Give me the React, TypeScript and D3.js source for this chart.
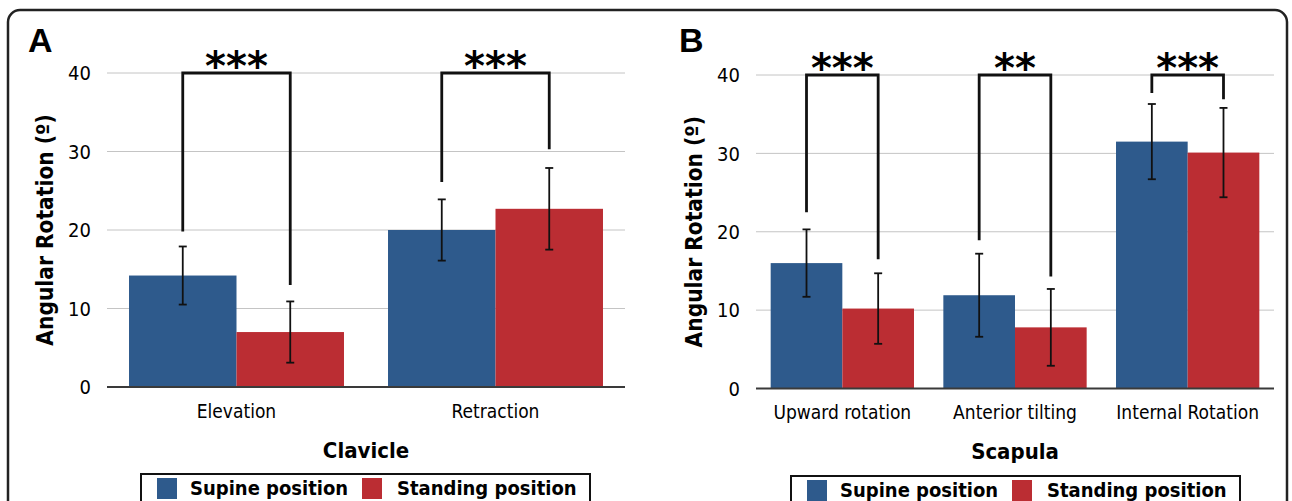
import * as d3 from "d3";

// values (degrees)
const clavicleCats = ["Elevation", "Retraction"];
const claviceSupine = [14.2, 20.0];
const claviceSupineSd = [3.7, 3.9];
const claviceStanding = [7.0, 22.7];
const claviceStandingSd = [3.9, 5.2];
const claviceBrackets = [[19.8, 13.0], [26.1, 30.3]];
const claviceStars = ["***", "***"];

const scapulaCats = ["Upward rotation", "Anterior tilting", "Internal Rotation"];
const scapulaSupine = [16.0, 11.9, 31.5];
const scapulaSupineSd = [4.3, 5.3, 4.8];
const scapulaStanding = [10.2, 7.8, 30.1];
const scapulaStandingSd = [4.5, 4.9, 5.7];
const scapulaBrackets = [[22.5, 16.5], [18.9, 14.3], [37.7, 36.9]];
const scapulaStars = ["***", "**", "***"];

const yTicks = [0, 10, 20, 30, 40];
const bracketTop = 40;
const seriesNames = ["Supine position", "Standing position"];

const BLUE = "#2e5a8c";
const RED = "#bb2d33";
const FONT = "'DejaVu Sans Condensed', 'DejaVu Sans', sans-serif";

type PanelProps = {
  letter: string;
  letterX: number;
  title: string;
  cats: string[];
  supine: number[];
  supineSd: number[];
  standing: number[];
  standingSd: number[];
  brackets: number[][];
  stars: string[];
  x0: number;
  x1: number;
  yZero: number;
  yMax: number;
  yTitleX: number;
  legendX: number;
  legendY: number;
};

const Panel = (p: PanelProps) => {
  const x = d3.scaleBand().domain(p.cats).range([p.x0, p.x1]).paddingInner(0.17).paddingOuter(0.085);
  const y = d3.scaleLinear().domain([0, 40]).range([p.yZero, p.yMax]);
  const bw = x.bandwidth() / 2;
  const series = [
    { vals: p.supine, sd: p.supineSd, color: BLUE, off: 0 },
    { vals: p.standing, sd: p.standingSd, color: RED, off: bw },
  ];
  const midY = (p.yZero + p.yMax) / 2;

  return (
    <g>
      <text x={p.letterX} y={52} fontFamily="'Liberation Sans', Arial, sans-serif" fontWeight="bold" fontSize={34}>
        {p.letter}
      </text>
      {yTicks.map((t) => (
        <g key={t}>
          {t > 0 && <line x1={p.x0} x2={p.x1} y1={y(t)} y2={y(t)} stroke="#c4c4c4" strokeWidth={1} />}
          <text x={p.x0 - 16} y={y(t)} dy="0.36em" textAnchor="end" fontFamily={FONT} fontSize={20}>
            {t}
          </text>
        </g>
      ))}
      {series.map((s, si) =>
        p.cats.map((c, i) => (
          <rect key={si + c} x={(x(c) as number) + s.off} y={y(s.vals[i])} width={bw} height={y(0) - y(s.vals[i])} fill={s.color} />
        ))
      )}
      <line x1={p.x0} x2={p.x1} y1={y(0)} y2={y(0)} stroke="#3a3a3a" strokeWidth={2} />
      {series.map((s, si) =>
        p.cats.map((c, i) => {
          const cx = (x(c) as number) + s.off + bw / 2;
          const lo = y(s.vals[i] - s.sd[i]);
          const hi = y(s.vals[i] + s.sd[i]);
          return (
            <g key={"e" + si + c} stroke="#111" strokeWidth={1.8}>
              <line x1={cx} x2={cx} y1={lo} y2={hi} />
              <line x1={cx - 4} x2={cx + 4} y1={lo} y2={lo} />
              <line x1={cx - 4} x2={cx + 4} y1={hi} y2={hi} />
            </g>
          );
        })
      )}
      {p.cats.map((c, i) => {
        const xl = (x(c) as number) + bw / 2;
        const xr = xl + bw;
        const [l, r] = p.brackets[i];
        return (
          <g key={"b" + c}>
            <path
              d={`M${xl},${y(l)}V${y(bracketTop)}H${xr}V${y(r)}`}
              fill="none"
              stroke="#111"
              strokeWidth={2.8}
            />
            <text x={(xl + xr) / 2} y={y(bracketTop) + 7} textAnchor="middle" fontFamily="'DejaVu Sans', sans-serif" fontWeight="bold" fontSize={40}>
              {p.stars[i]}
            </text>
          </g>
        );
      })}
      {p.cats.map((c) => (
        <text key={"l" + c} x={(x(c) as number) + x.bandwidth() / 2} y={p.yZero + 24} dy="0.36em" textAnchor="middle" fontFamily={FONT} fontSize={19}>
          {c}
        </text>
      ))}
      <text x={(p.x0 + p.x1) / 2} y={p.yZero + 63} dy="0.36em" textAnchor="middle" fontFamily={FONT} fontWeight="bold" fontSize={22}>
        {p.title}
      </text>
      <text
        transform={`translate(${p.yTitleX},${midY}) rotate(-90)`}
        textAnchor="middle"
        dy="0.36em"
        fontFamily={FONT}
        fontWeight="bold"
        fontSize={22.5}
      >
        Angular Rotation (º)
      </text>
      <rect x={p.legendX} y={p.legendY} width={449} height={60} fill="white" stroke="#111" strokeWidth={2} />
      {seriesNames.map((n, i) => (
        <g key={n}>
          <rect x={p.legendX + 16 + i * 205} y={p.legendY + 4} width={20} height={21} fill={i === 0 ? BLUE : RED} />
          <text x={p.legendX + 49 + i * 207} y={p.legendY + 21} fontFamily={FONT} fontWeight="bold" fontSize={20}>
            {n}
          </text>
        </g>
      ))}
    </g>
  );
};

export default function App() {
  return (
    <div style={{ position: "absolute", left: 0, top: 0 }}>
      <svg width={1292} height={501} style={{ display: "block", background: "white" }}>
        <rect x={8} y={10} width={1279} height={620} rx={12} fill="none" stroke="#222" strokeWidth={2.5} />
        <Panel
          letter="A"
          letterX={28}
          title="Clavicle"
          cats={clavicleCats}
          supine={claviceSupine}
          supineSd={claviceSupineSd}
          standing={claviceStanding}
          standingSd={claviceStandingSd}
          brackets={claviceBrackets}
          stars={claviceStars}
          x0={107}
          x1={625}
          yZero={387}
          yMax={73}
          yTitleX={45}
          legendX={141}
          legendY={474}
        />
        <Panel
          letter="B"
          letterX={679}
          title="Scapula"
          cats={scapulaCats}
          supine={scapulaSupine}
          supineSd={scapulaSupineSd}
          standing={scapulaStanding}
          standingSd={scapulaStandingSd}
          brackets={scapulaBrackets}
          stars={scapulaStars}
          x0={756}
          x1={1274}
          yZero={388.5}
          yMax={75}
          yTitleX={694}
          legendX={791}
          legendY={476}
        />
      </svg>
    </div>
  );
}
